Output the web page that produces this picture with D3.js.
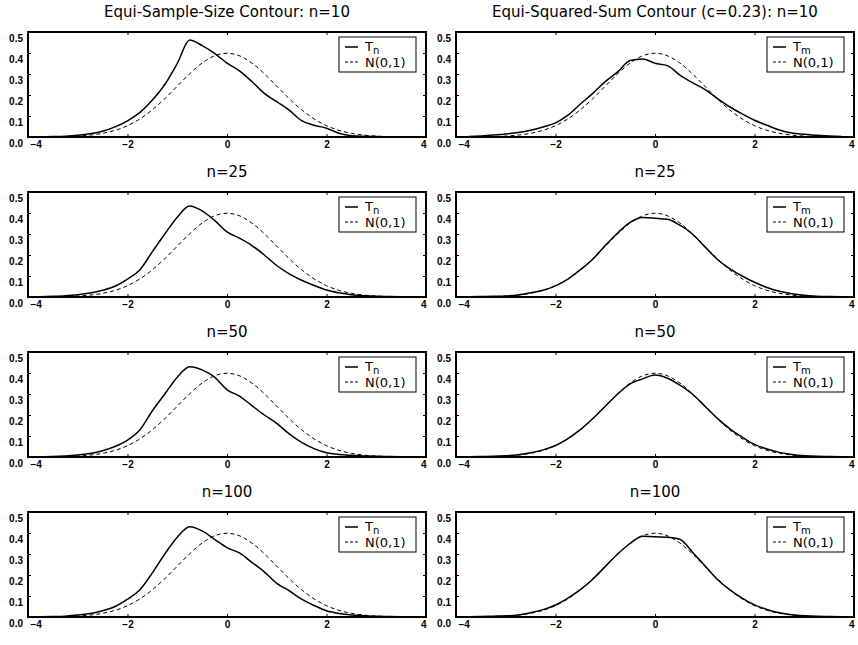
<!DOCTYPE html>
<html>
<head>
<meta charset="utf-8">
<script src="https://cdn.jsdelivr.net/npm/d3@7"></script>
<style>
  body { margin: 0; background: #fff; }
  .title { font-family: "DejaVu Sans", sans-serif; font-size: 15px; }
  .tick text { font-family: "Liberation Sans", Arial, sans-serif; font-size: 10px; font-weight: bold; fill: #000; }
  .legend text { font-family: "DejaVu Sans", sans-serif; font-size: 13px; }
</style>
</head>
<body>
<div id="chart"></div>
<script>
// grid the curves were read on
const xGrid = [-3.75, -3.5, -3.25, -3, -2.75, -2.5, -2.25, -2, -1.75, -1.5, -1.25, -1, -0.75, -0.5, -0.25, 0,
  0.25, 0.5, 0.75, 1, 1.25, 1.5, 1.75, 2, 2.25, 2.5, 2.75, 3, 3.25, 3.5, 3.75];

// N(0,1) reference density (dashed)
const normalPdf = [0.0004, 0.0009, 0.0020, 0.0044, 0.0091, 0.0175, 0.0317, 0.0540, 0.0863, 0.1295, 0.1826, 0.2420, 0.3011, 0.3521, 0.3867, 0.3989,
  0.3867, 0.3521, 0.3011, 0.2420, 0.1826, 0.1295, 0.0863, 0.0540, 0.0317, 0.0175, 0.0091, 0.0044, 0.0020, 0.0009, 0.0004];

// left column: T_n, equi-sample-size contour
const tn10 = [0.0005, 0.002, 0.004, 0.008, 0.015, 0.027, 0.048, 0.077, 0.117, 0.176, 0.25, 0.35, 0.462, 0.435, 0.398, 0.352,
  0.315, 0.264, 0.208, 0.168, 0.128, 0.078, 0.056, 0.042, 0.018, 0.006, 0.003, 0.002, 0.001, 0.0005, 0];
const tn25 = [0.001, 0.003, 0.006, 0.011, 0.019, 0.032, 0.051, 0.085, 0.13, 0.216, 0.3, 0.38, 0.433, 0.41, 0.365, 0.31,
  0.28, 0.245, 0.2, 0.15, 0.11, 0.08, 0.055, 0.033, 0.02, 0.011, 0.006, 0.003, 0.002, 0.001, 0];
const tn50 = [0.001, 0.002, 0.005, 0.01, 0.017, 0.03, 0.05, 0.08, 0.13, 0.22, 0.3, 0.38, 0.43, 0.415, 0.38, 0.32,
  0.29, 0.245, 0.2, 0.16, 0.11, 0.07, 0.04, 0.02, 0.012, 0.008, 0.005, 0.003, 0.002, 0.001, 0];
const tn100 = [0.001, 0.002, 0.004, 0.009, 0.017, 0.03, 0.05, 0.085, 0.13, 0.21, 0.3, 0.38, 0.43, 0.41, 0.37, 0.33,
  0.305, 0.26, 0.215, 0.16, 0.125, 0.085, 0.055, 0.03, 0.017, 0.01, 0.006, 0.003, 0.002, 0.001, 0];

// right column: T_m, equi-squared-sum contour
const tm10 = [0.002, 0.005, 0.009, 0.014, 0.021, 0.032, 0.048, 0.067, 0.104, 0.157, 0.208, 0.264, 0.31, 0.364, 0.372, 0.351,
  0.34, 0.295, 0.259, 0.227, 0.184, 0.144, 0.11, 0.08, 0.056, 0.033, 0.019, 0.013, 0.008, 0.005, 0.002];
const tm25 = [0.001, 0.002, 0.003, 0.005, 0.01, 0.02, 0.032, 0.053, 0.085, 0.13, 0.18, 0.245, 0.305, 0.355, 0.378, 0.375,
  0.37, 0.342, 0.3, 0.24, 0.18, 0.135, 0.1, 0.07, 0.045, 0.027, 0.015, 0.008, 0.004, 0.002, 0.001];
const tm50 = [0.001, 0.002, 0.003, 0.006, 0.011, 0.02, 0.034, 0.055, 0.088, 0.13, 0.183, 0.242, 0.3, 0.348, 0.372, 0.39,
  0.375, 0.342, 0.3, 0.243, 0.185, 0.135, 0.095, 0.06, 0.038, 0.022, 0.012, 0.006, 0.003, 0.002, 0.001];
const tm100 = [0.001, 0.002, 0.004, 0.006, 0.01, 0.02, 0.035, 0.057, 0.09, 0.13, 0.18, 0.24, 0.3, 0.35, 0.385, 0.382,
  0.38, 0.37, 0.31, 0.245, 0.18, 0.13, 0.09, 0.058, 0.036, 0.02, 0.011, 0.006, 0.003, 0.002, 0.001];

const leftTitles = ['Equi-Sample-Size Contour: n=10', 'n=25', 'n=50', 'n=100'];
const rightTitles = ['Equi-Squared-Sum Contour (c=0.23): n=10', 'n=25', 'n=50', 'n=100'];
const leftSeries = [tn10, tn25, tn50, tn100];
const rightSeries = [tm10, tm25, tm50, tm100];
const xTicks = [-4, -2, 0, 2, 4];
const yTicks = [0, 0.1, 0.2, 0.3, 0.4, 0.5];

const W = 858, H = 645;
const svg = d3.select('#chart').append('svg')
  .attr('width', W).attr('height', H);

const panelW = 398, panelH = 105;
const colX = [28, 456];
const rowY = [32, 192, 352, 512];

function drawPanel(px, py, title, values, sub) {
  const g = svg.append('g').attr('transform', `translate(${px}, ${py})`);
  const x = d3.scaleLinear().domain([-4, 4]).range([0, panelW]);
  const y = d3.scaleLinear().domain([0, 0.5]).range([panelH, 0]);

  g.append('text').attr('class', 'title')
    .attr('x', panelW / 2).attr('y', -15)
    .attr('text-anchor', 'middle')
    .text(title);

  const line = d3.line()
    .x((d, i) => x(xGrid[i]))
    .y(d => y(d))
    .curve(d3.curveMonotoneX);

  g.append('path').datum(normalPdf)
    .attr('d', line).attr('fill', 'none')
    .attr('stroke', '#000').attr('stroke-width', 1)
    .attr('stroke-dasharray', '4,3');

  g.append('path').datum(values)
    .attr('d', line).attr('fill', 'none')
    .attr('stroke', '#000').attr('stroke-width', 1.5);

  // axes, ticks pointing inward
  const xb = g.append('g').attr('transform', `translate(0, ${panelH})`)
    .call(d3.axisBottom(x).tickValues(xTicks).tickSize(-3).tickPadding(4).tickFormat(d3.format('d')));
  xb.selectAll('text')
    .attr('text-anchor', (d, i) => i === 0 ? 'start' : (i === xTicks.length - 1 ? 'end' : 'middle'))
    .attr('dx', (d, i) => i === 0 ? 2 : 0)
    .text(d => d < 0 ? '\u2212' + Math.abs(d) : d);
  g.append('g').call(d3.axisTop(x).tickValues(xTicks).tickSize(-3).tickFormat(''));
  const yl = g.append('g')
    .call(d3.axisLeft(y).tickValues(yTicks).tickSize(-3).tickPadding(5).tickFormat(d3.format('.1f')));
  yl.selectAll('text').attr('dy', '0.9em');
  g.append('g').attr('transform', `translate(${panelW}, 0)`)
    .call(d3.axisRight(y).tickValues(yTicks).tickSize(-3).tickFormat(''));
  g.selectAll('.domain').remove();

  g.append('rect')
    .attr('width', panelW).attr('height', panelH)
    .attr('fill', 'none').attr('stroke', '#000').attr('stroke-width', 2);

  // legend
  const lg = g.append('g').attr('class', 'legend')
    .attr('transform', `translate(${panelW - 87}, 5)`);
  lg.append('rect').attr('width', 77).attr('height', 35)
    .attr('fill', '#fff').attr('stroke', '#000').attr('stroke-width', 1);
  lg.append('line').attr('x1', 6).attr('x2', 19).attr('y1', 10).attr('y2', 10)
    .attr('stroke', '#000').attr('stroke-width', 1.5);
  lg.append('line').attr('x1', 6).attr('x2', 19).attr('y1', 25).attr('y2', 25)
    .attr('stroke', '#000').attr('stroke-width', 1).attr('stroke-dasharray', '3,2');
  const t1 = lg.append('text').attr('x', 26).attr('y', 14);
  t1.append('tspan').text('T');
  t1.append('tspan').attr('dy', 3).attr('font-size', '10px').text(sub);
  lg.append('text').attr('x', 26).attr('y', 30).text('N(0,1)');
}

rowY.forEach((ry, r) => {
  drawPanel(colX[0], ry, leftTitles[r], leftSeries[r], 'n');
  drawPanel(colX[1], ry, rightTitles[r], rightSeries[r], 'm');
});
</script>
</body>
</html>
